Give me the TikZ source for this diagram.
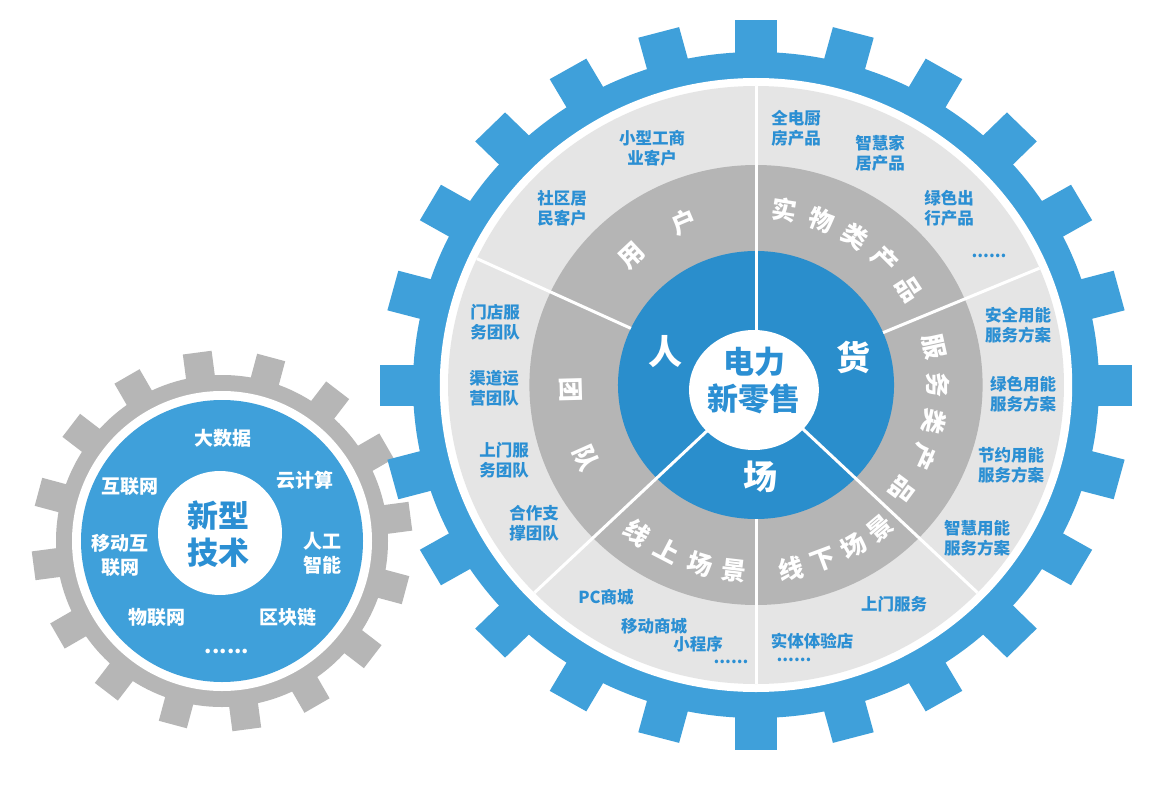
\documentclass[tikz,border=0pt]{standalone}
\usepackage{fontspec}
\newfontfamily\cjk{Noto Sans CJK SC}
\definecolor{gearblue}{HTML}{3FA0DA}
\definecolor{diskblue}{HTML}{2A8ECC}
\definecolor{lgray}{HTML}{E5E5E5}
\definecolor{dgray}{HTML}{B5B5B5}
\definecolor{sgray}{HTML}{B6B6B6}
\definecolor{txtblue}{HTML}{2B8FD3}
\tikzset{
  lbl/.style={font=\cjk\bfseries\fontsize{16.5}{20}\selectfont, text=txtblue, align=center, inner sep=0pt},
  wlbl/.style={font=\cjk\bfseries\fontsize{19}{24}\selectfont, text=white, align=center, inner sep=0pt},
  ringch/.style={font=\cjk\bfseries\fontsize{25}{25}\selectfont, text=white, inner sep=0pt},
  bigch/.style={font=\cjk\bfseries\fontsize{34}{34}\selectfont, text=white, inner sep=0pt},
  ctitle/.style={font=\cjk\bfseries\fontsize{31}{37}\selectfont, text=txtblue, align=center, inner sep=0pt},
  sepline/.style={draw=white, line width=3pt},
}
\begin{document}
\begin{tikzpicture}[x=1pt, y=-1pt]
\useasboundingbox[fill=white] (0,0) rectangle (1158,802);

% ---------- small gear ----------
\begin{scope}[shift={(222,541)}]
  \foreach \a in {7.5,30,...,345} {
    \fill[sgray, rotate=\a] (150,-14.5) rectangle (190,14.5);
  }
  \fill[sgray] (0,0) circle (166);
  \fill[white] (0,0) circle (150);
  \fill[gearblue] (0,0) circle (141);
  \fill[white] (-2,-8) circle (62);
\end{scope}
\node[ctitle] (xx) at (218,534) {新型\\技术};
\node[wlbl] (k1) at (223,438) {大数据};
\node[wlbl] (k2) at (130,487) {互联网};
\node[wlbl] (k3) at (305,480) {云计算};
\node[wlbl] (k4) at (120,555) {移动互\\联网};
\node[wlbl] (k5) at (322,553) {人工\\智能};
\node[wlbl] (k6) at (157,617) {物联网};
\node[wlbl] (k7) at (288,617) {区块链};
\node[wlbl, font=\cjk\bfseries\fontsize{21}{24}\selectfont] (k8) at (227,651) {......};

% ---------- big gear ----------
\begin{scope}[shift={(756,385)}, xscale=1.03]
  \fill[gearblue] (0,0) circle (333);
  \foreach \a in {0,15,...,345} {
    \fill[gearblue, rotate=\a] (320,-20.5) rectangle (365,20.5);
  }
  \fill[white] (0,0) circle (307);
  \fill[lgray] (0,0) circle (299);
  \fill[dgray] (0,0) circle (220);
  \fill[diskblue] (0,0) circle (134);
  \foreach \p in {-90,-224,-316} {
    \draw[sepline] (\p:20) -- (\p:299);
  }
  \foreach \p in {-23,-155,-270} {
    \draw[sepline] (\p:134) -- (\p:299);
  }
  \fill[white] (-2,5) ellipse (63 and 60);
  % ring characters
  \foreach \c/\ang in {用/133,户/113,实/81,物/69,类/57,产/45,品/33,
                       服/12.5,务/0,类/-12,产/-24,品/-36.5} {
    \node[ringch, rotate=\ang-90] (r\ang) at (-\ang:177) {\c};
  }
  \foreach \c/\ang in {团/181.5,队/204} {
    \node[ringch, rotate=\ang+90] (q\ang) at (-\ang:180) {\c};
  }
  \foreach \c/\ang in {线/232,上/242.5,场/253,景/263.5,
                       线/280.5,下/290.5,场/300.5,景/310} {
    \node[ringch, rotate=\ang+90] (q\ang) at (-\ang:187) {\c};
  }
\end{scope}

\node[ctitle] (title) at (754,381) {电力\\新零售};
\node[bigch] (ren) at (665,352) {人};
\node[bigch] (huo) at (853,357) {货};
\node[bigch] (chang) at (760,477) {场};

\node[lbl] (u1) at (652,148) {小型工商\\业客户};
\node[lbl] (u2) at (562,208) {社区居\\民客户};
\node[lbl] (p1) at (796,128) {全电厨\\房产品};
\node[lbl] (p2) at (880,153) {智慧家\\居产品};
\node[lbl] (p3) at (949,208) {绿色出\\行产品};
\node[lbl] (p4) at (989,256) {......};
\node[lbl] (s1) at (1018,325) {安全用能\\服务方案};
\node[lbl] (s2) at (1023,394) {绿色用能\\服务方案};
\node[lbl] (s3) at (1011,465) {节约用能\\服务方案};
\node[lbl] (s4) at (977,538) {智慧用能\\服务方案};
\node[lbl] (t1) at (495,322) {门店服\\务团队};
\node[lbl] (t2) at (494,388) {渠道运\\营团队};
\node[lbl] (t3) at (504,460) {上门服\\务团队};
\node[lbl] (t4) at (534,523) {合作支\\撑团队};
\node[lbl] (on1) at (606,597) {PC商城};
\node[lbl] (on2) at (654,626) {移动商城};
\node[lbl] (on3) at (698,644) {小程序};
\node[lbl] (on4) at (731,662) {......};
\node[lbl] (off1) at (894,604) {上门服务};
\node[lbl] (off2) at (812,641) {实体体验店};
\node[lbl] (off3) at (794,660) {......};
\end{tikzpicture}
\end{document}
